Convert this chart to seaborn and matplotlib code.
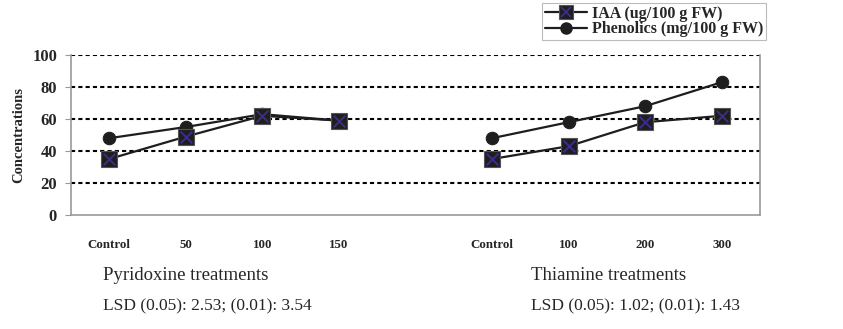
import matplotlib
matplotlib.use("Agg")
import matplotlib.pyplot as plt
from matplotlib.lines import Line2D
import seaborn as sns
import pandas as pd

sns.set_style('white')
plt.rcParams['font.family'] = ['Liberation Serif', 'DejaVu Serif']

# data
categories = ["Control", "50", "100", "150", "", "Control", "100", "200", "300"]
pyr_pos = [0, 1, 2, 3]
thi_pos = [5, 6, 7, 8]
iaa_pyr = [35, 49, 62, 59]
phen_pyr = [48, 55, 63, 59]
iaa_thi = [35, 43, 58, 62]
phen_thi = [48, 58, 68, 83]

rows = []
for p, a, b in zip(pyr_pos, iaa_pyr, phen_pyr):
    rows.append((p, a, 'IAA', 'Pyridoxine'))
    rows.append((p, b, 'Phenolics', 'Pyridoxine'))
for p, a, b in zip(thi_pos, iaa_thi, phen_thi):
    rows.append((p, a, 'IAA', 'Thiamine'))
    rows.append((p, b, 'Phenolics', 'Thiamine'))
df = pd.DataFrame(rows, columns=['pos', 'value', 'series', 'group'])

fig = plt.figure(figsize=(8.43, 3.29), dpi=100)
ax = fig.add_axes([0.0842, 0.3465, 0.8173, 0.4863])

# gridlines
for v in [20, 40, 60, 80, 100]:
    ax.axhline(v, color='black', lw=1.5, ls=(0, (2, 1.5)), zorder=1)

# phenolics (circles)
sns.lineplot(data=df[df.series == 'Phenolics'], x='pos', y='value', units='group',
             estimator=None, color='#1e1e1e', lw=1.6, marker='o', markersize=9,
             markeredgecolor='#1e1e1e', legend=False, ax=ax, zorder=3)
# IAA (squares with blue cross)
iaa = df[df.series == 'IAA']
sns.lineplot(data=iaa, x='pos', y='value', units='group',
             estimator=None, color='#1e1e1e', lw=1.6, marker='s', markersize=12,
             markeredgecolor='#555555', markeredgewidth=0.8, legend=False, ax=ax, zorder=4)
sns.scatterplot(data=iaa, x='pos', y='value', marker='x', color='#3a2d8c',
                s=70, linewidth=1.4, legend=False, ax=ax, zorder=5)

ax.set_xlim(-0.5, 8.5)
ax.set_ylim(0, 100)
ax.set_xticks(range(len(categories)))
ax.set_xticklabels(categories, fontweight='bold', fontsize=9.3)
ax.set_xticks([i - 0.5 for i in range(len(categories) + 1)], minor=True)
ax.tick_params(axis='x', which='major', length=0, pad=17)
ax.tick_params(axis='x', which='minor', length=4, color='#999999', width=0.8, direction='out')
ax.set_yticks([0, 20, 40, 60, 80, 100])
ax.set_yticklabels([0, 20, 40, 60, 80, 100], fontweight='bold', fontsize=12)
ax.tick_params(axis='y', length=4, color='#999999', width=0.8, direction='out', pad=6, left=True)
ax.set_xlabel('')
ax.set_ylabel('Concentrations', fontweight='bold', fontsize=10.5, labelpad=5)

for s in ['left', 'bottom', 'right']:
    ax.spines[s].set_color('#9a9a9a')
    ax.spines[s].set_linewidth(1.2)
ax.spines['top'].set_visible(False)

# legend
h_iaa = (Line2D([], [], color='#1e1e1e', lw=1.6, marker='s', markersize=10,
                markeredgecolor='#555555', markeredgewidth=0.8),
         Line2D([], [], ls='none', marker='x', color='#3a2d8c', markersize=7, markeredgewidth=1.3))
h_phen = Line2D([], [], color='#1e1e1e', lw=1.6, marker='o', markersize=8)
leg = fig.legend([h_iaa, h_phen], ['IAA (ug/100 g FW)', 'Phenolics (mg/100 g FW)'],
                 loc='lower left', bbox_to_anchor=(0.643, 0.877), frameon=True,
                 fancybox=False, prop={'weight': 'bold', 'size': 11.5},
                 labelspacing=-0.05, handlelength=2.6, handletextpad=0.3,
                 borderpad=0.2, borderaxespad=0)
leg.get_frame().set_edgecolor('#aaaaaa')
leg.get_frame().set_linewidth(0.8)

# captions under the axis
fig.text(103 / 843, 1 - 276 / 329, 'Pyridoxine treatments', fontsize=13.5, va='center')
fig.text(103 / 843, 1 - 306 / 329, 'LSD (0.05): 2.53; (0.01): 3.54', fontsize=12.5, va='center')
fig.text(531 / 843, 1 - 276 / 329, 'Thiamine treatments', fontsize=13.5, va='center')
fig.text(531 / 843, 1 - 306 / 329, 'LSD (0.05): 1.02; (0.01): 1.43', fontsize=12.5, va='center')

fig.savefig('out.png', dpi=100)
